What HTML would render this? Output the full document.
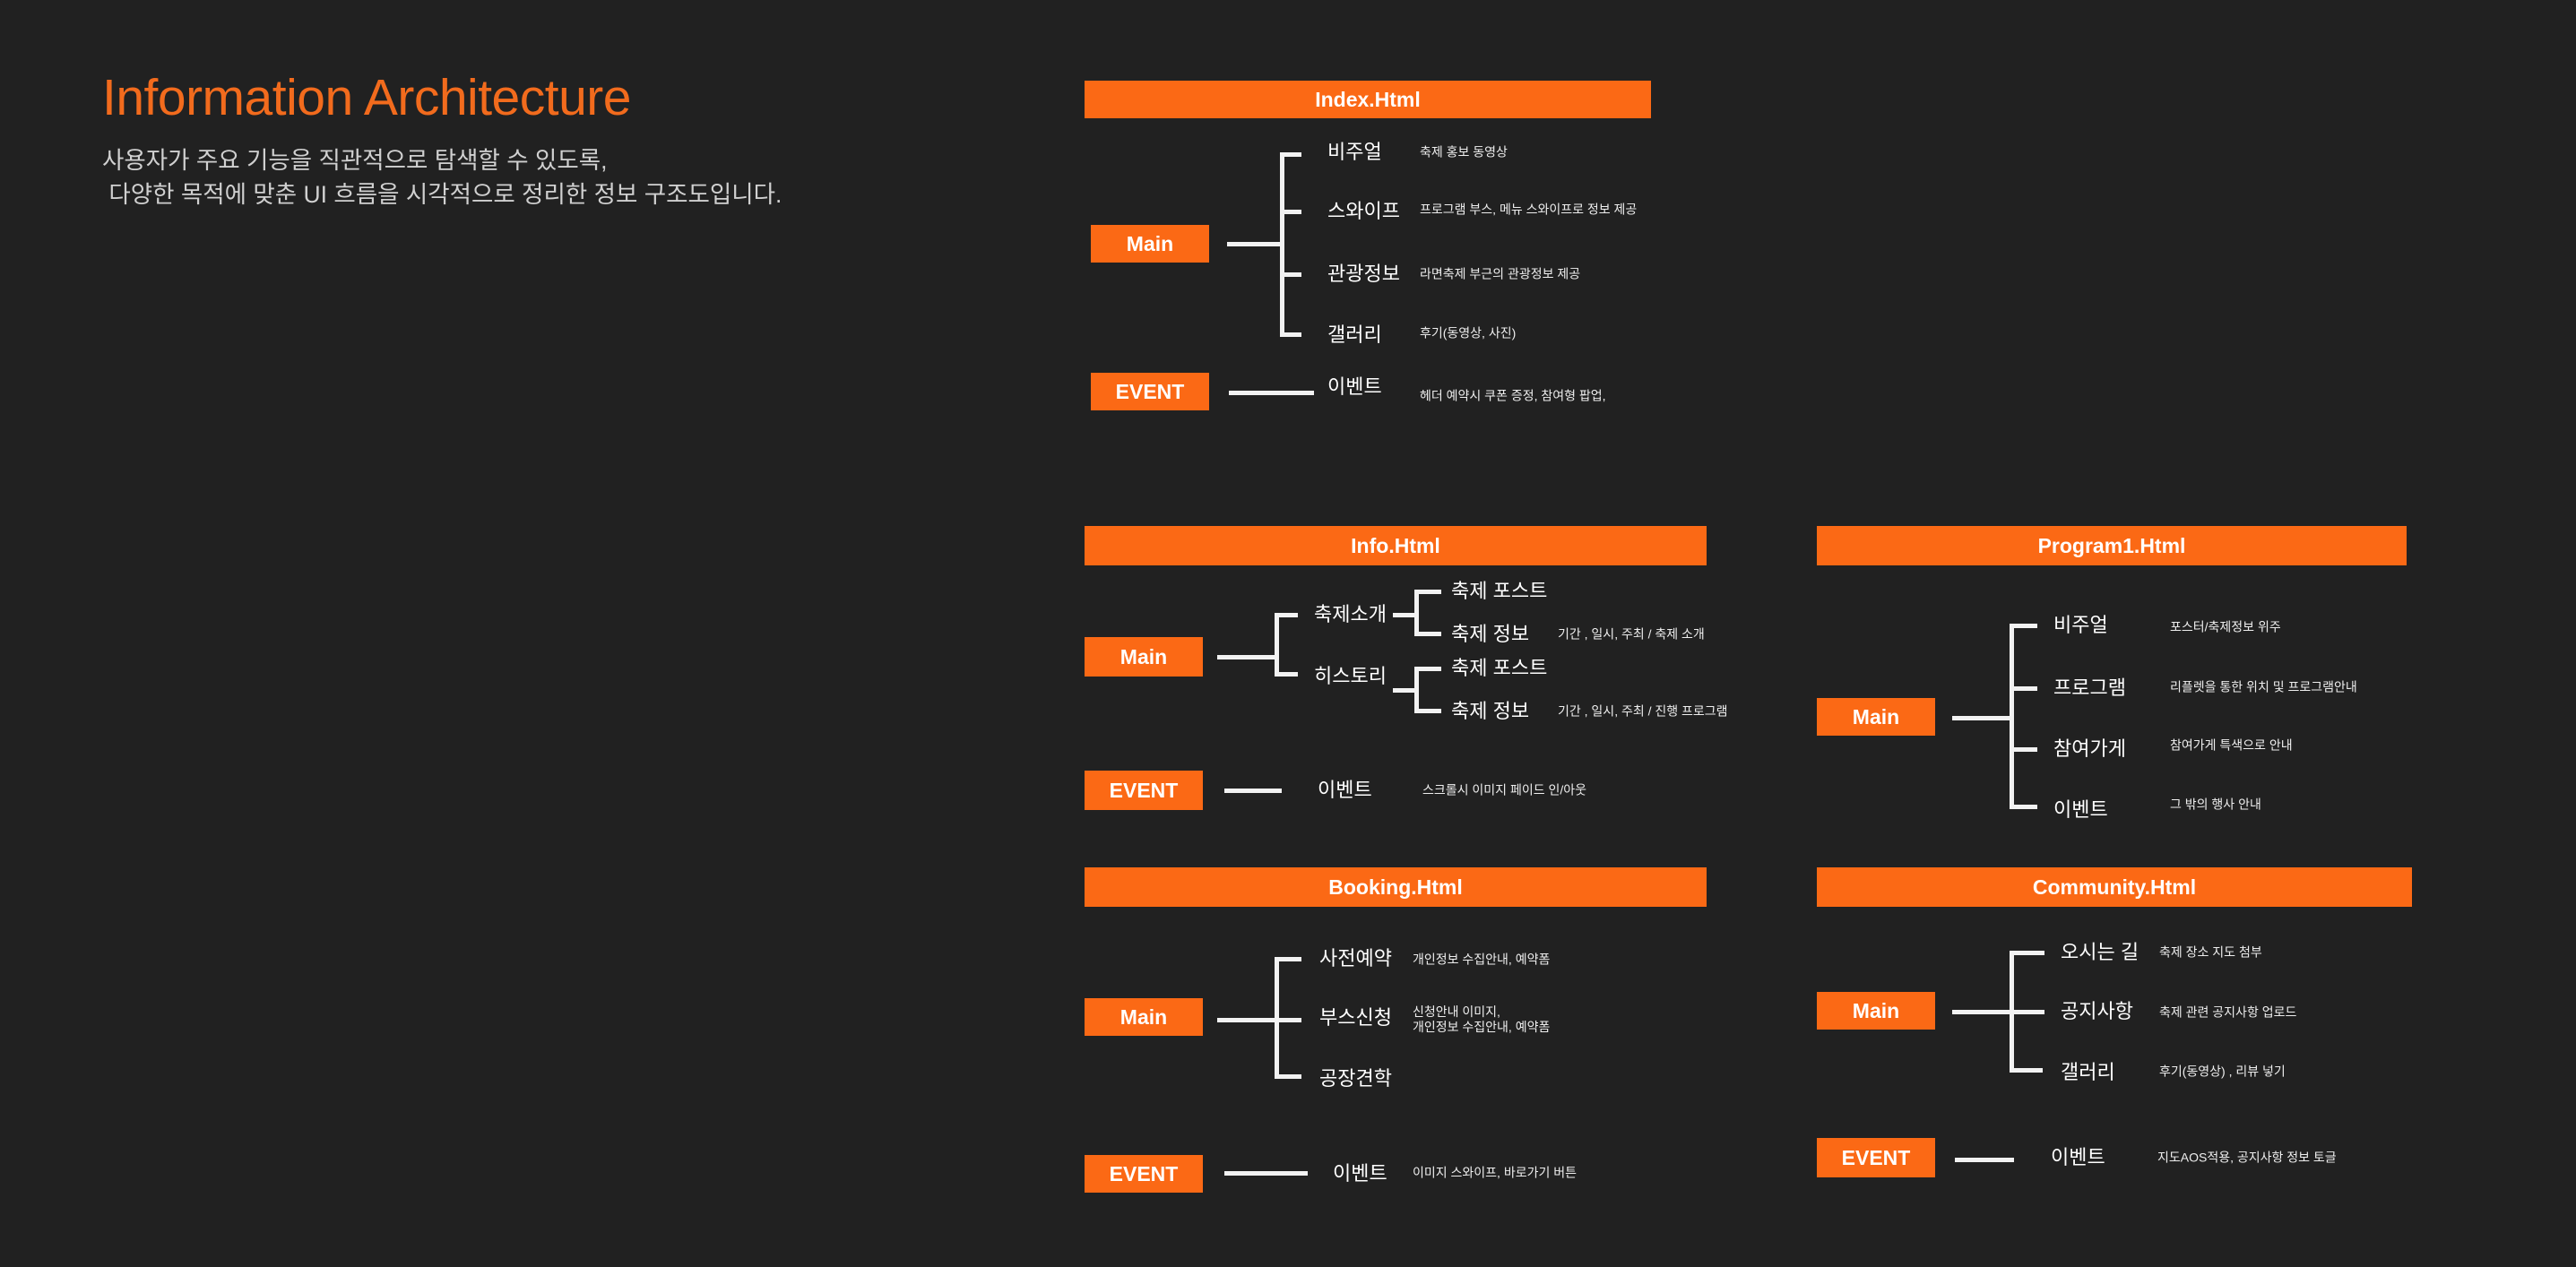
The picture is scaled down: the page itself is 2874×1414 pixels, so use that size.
<!DOCTYPE html>
<html><head><meta charset="utf-8"><style>
body{margin:0;width:2874px;height:1414px;background:#212121;position:relative;overflow:hidden;font-family:"Liberation Sans","Noto Sans CJK KR",sans-serif;color:#fff}
div{position:absolute}
.b{background:#fb6915;color:#fff;font-size:23px;display:flex;align-items:center;justify-content:center;font-weight:bold}
.hd{height:44px}
.bx{width:132px;height:42px}
.l{background:#f2f2f2}
.t{transform:translateY(-50%);white-space:nowrap;font-size:22px;line-height:1}
.d{transform:translateY(-50%);white-space:nowrap;font-size:14px;line-height:1.2;color:#eee}
</style></head><body>
<div style="left:114px;top:76px;font-size:57px;color:#f26b1d;white-space:nowrap;letter-spacing:-0.5px">Information Architecture</div>
<div style="left:114px;top:160px;font-size:26.5px;color:#d0d0d0;line-height:38px;white-space:nowrap">사용자가 주요 기능을 직관적으로 탐색할 수 있도록,<br>&nbsp;다양한 목적에 맞춘 UI 흐름을 시각적으로 정리한 정보 구조도입니다.</div>

<!-- Index -->
<div class="b hd" style="left:1210px;top:90px;width:632px;height:42px">Index.Html</div>
<div class="b bx" style="left:1217px;top:251px">Main</div>
<div class="l" style="left:1369px;top:270px;width:63px;height:5px"></div>
<div class="l" style="left:1428px;top:170px;width:5px;height:206px"></div>
<div class="l" style="left:1428px;top:170px;width:24px;height:5px"></div>
<div class="l" style="left:1428px;top:234px;width:24px;height:5px"></div>
<div class="l" style="left:1428px;top:304px;width:24px;height:5px"></div>
<div class="l" style="left:1428px;top:371px;width:24px;height:5px"></div>
<div class="t" style="left:1481px;top:170px">비주얼</div>
<div class="t" style="left:1481px;top:236px">스와이프</div>
<div class="t" style="left:1481px;top:306px">관광정보</div>
<div class="t" style="left:1481px;top:374px">갤러리</div>
<div class="d" style="left:1584px;top:170px">축제 홍보 동영상</div>
<div class="d" style="left:1584px;top:234px">프로그램 부스, 메뉴 스와이프로 정보 제공</div>
<div class="d" style="left:1584px;top:306px">라면축제 부근의 관광정보 제공</div>
<div class="d" style="left:1584px;top:372px">후기(동영상, 사진)</div>
<div class="b bx" style="left:1217px;top:416px">EVENT</div>
<div class="l" style="left:1371px;top:436px;width:95px;height:5px"></div>
<div class="t" style="left:1481px;top:432px">이벤트</div>
<div class="d" style="left:1584px;top:442px">헤더 예약시 쿠폰 증정, 참여형 팝업,</div>

<!-- Info -->
<div class="b hd" style="left:1210px;top:587px;width:694px">Info.Html</div>
<div class="b bx" style="left:1210px;top:711px;height:44px">Main</div>
<div class="l" style="left:1358px;top:731px;width:68px;height:5px"></div>
<div class="l" style="left:1422px;top:684px;width:5px;height:71px"></div>
<div class="l" style="left:1422px;top:684px;width:26px;height:5px"></div>
<div class="l" style="left:1422px;top:750px;width:26px;height:5px"></div>
<div class="t" style="left:1466px;top:686px">축제소개</div>
<div class="t" style="left:1466px;top:755px">히스토리</div>
<div class="l" style="left:1554px;top:684px;width:28px;height:5px"></div>
<div class="l" style="left:1578px;top:658px;width:5px;height:52px"></div>
<div class="l" style="left:1578px;top:658px;width:30px;height:5px"></div>
<div class="l" style="left:1578px;top:705px;width:30px;height:5px"></div>
<div class="l" style="left:1554px;top:768px;width:28px;height:5px"></div>
<div class="l" style="left:1578px;top:744px;width:5px;height:52px"></div>
<div class="l" style="left:1578px;top:744px;width:30px;height:5px"></div>
<div class="l" style="left:1578px;top:791px;width:30px;height:5px"></div>
<div class="t" style="left:1619px;top:660px">축제 포스트</div>
<div class="t" style="left:1619px;top:708px">축제 정보</div>
<div class="t" style="left:1619px;top:746px">축제 포스트</div>
<div class="t" style="left:1619px;top:794px">축제 정보</div>
<div class="d" style="left:1738px;top:708px">기간 , 일시, 주최 / 축제 소개</div>
<div class="d" style="left:1738px;top:794px">기간 , 일시, 주최 / 진행 프로그램</div>
<div class="b bx" style="left:1210px;top:860px;height:44px">EVENT</div>
<div class="l" style="left:1366px;top:880px;width:64px;height:5px"></div>
<div class="t" style="left:1470px;top:882px">이벤트</div>
<div class="d" style="left:1587px;top:882px">스크롤시 이미지 페이드 인/아웃</div>

<!-- Program1 -->
<div class="b hd" style="left:2027px;top:587px;width:658px">Program1.Html</div>
<div class="b bx" style="left:2027px;top:779px">Main</div>
<div class="l" style="left:2178px;top:799px;width:68px;height:5px"></div>
<div class="l" style="left:2242px;top:696px;width:5px;height:206px"></div>
<div class="l" style="left:2242px;top:696px;width:31px;height:5px"></div>
<div class="l" style="left:2242px;top:766px;width:31px;height:5px"></div>
<div class="l" style="left:2242px;top:834px;width:31px;height:5px"></div>
<div class="l" style="left:2242px;top:898px;width:31px;height:5px"></div>
<div class="t" style="left:2291px;top:698px">비주얼</div>
<div class="t" style="left:2291px;top:768px">프로그램</div>
<div class="t" style="left:2291px;top:836px">참여가게</div>
<div class="t" style="left:2291px;top:904px">이벤트</div>
<div class="d" style="left:2421px;top:700px">포스터/축제정보 위주</div>
<div class="d" style="left:2421px;top:767px">리플렛을 통한 위치 및 프로그램안내</div>
<div class="d" style="left:2421px;top:832px">참여가게 특색으로  안내</div>
<div class="d" style="left:2421px;top:898px">그 밖의 행사 안내</div>

<!-- Booking -->
<div class="b hd" style="left:1210px;top:968px;width:694px">Booking.Html</div>
<div class="b bx" style="left:1210px;top:1114px">Main</div>
<div class="l" style="left:1358px;top:1136px;width:68px;height:5px"></div>
<div class="l" style="left:1422px;top:1068px;width:5px;height:136px"></div>
<div class="l" style="left:1422px;top:1068px;width:30px;height:5px"></div>
<div class="l" style="left:1422px;top:1136px;width:30px;height:5px"></div>
<div class="l" style="left:1422px;top:1199px;width:30px;height:5px"></div>
<div class="t" style="left:1472px;top:1070px">사전예약</div>
<div class="t" style="left:1472px;top:1136px">부스신청</div>
<div class="t" style="left:1472px;top:1204px">공장견학</div>
<div class="d" style="left:1576px;top:1071px">개인정보 수집안내, 예약폼</div>
<div class="d" style="left:1576px;top:1138px">신청안내 이미지,<br>개인정보 수집안내, 예약폼</div>
<div class="b bx" style="left:1210px;top:1289px">EVENT</div>
<div class="l" style="left:1366px;top:1307px;width:93px;height:5px"></div>
<div class="t" style="left:1487px;top:1310px">이벤트</div>
<div class="d" style="left:1576px;top:1309px">이미지 스와이프, 바로가기 버튼</div>

<!-- Community -->
<div class="b hd" style="left:2027px;top:968px;width:664px">Community.Html</div>
<div class="b bx" style="left:2027px;top:1107px">Main</div>
<div class="l" style="left:2178px;top:1127px;width:103px;height:5px"></div>
<div class="l" style="left:2242px;top:1061px;width:5px;height:136px"></div>
<div class="l" style="left:2242px;top:1061px;width:39px;height:5px"></div>
<div class="l" style="left:2242px;top:1192px;width:37px;height:5px"></div>
<div class="t" style="left:2299px;top:1063px">오시는 길</div>
<div class="t" style="left:2299px;top:1129px">공지사항</div>
<div class="t" style="left:2299px;top:1197px">갤러리</div>
<div class="d" style="left:2409px;top:1063px">축제 장소 지도 첨부</div>
<div class="d" style="left:2409px;top:1130px">축제 관련 공지사항 업로드</div>
<div class="d" style="left:2409px;top:1196px">후기(동영상) , 리뷰 넣기</div>
<div class="b bx" style="left:2027px;top:1270px;height:44px">EVENT</div>
<div class="l" style="left:2181px;top:1292px;width:66px;height:5px"></div>
<div class="t" style="left:2288px;top:1292px">이벤트</div>
<div class="d" style="left:2407px;top:1292px">지도AOS적용, 공지사항 정보 토글</div>
</body></html>
